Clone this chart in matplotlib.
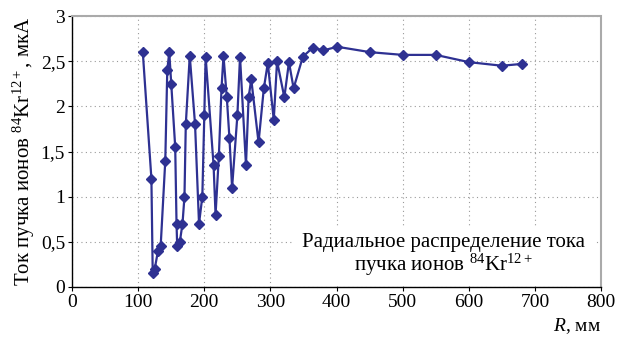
import matplotlib
matplotlib.use("Agg")
import matplotlib.pyplot as plt

plt.rcParams['font.family'] = ['Liberation Serif', 'DejaVu Serif']
plt.rcParams['mathtext.fontset'] = 'custom'
plt.rcParams['mathtext.rm'] = 'Liberation Serif'
plt.rcParams['mathtext.it'] = 'Liberation Serif:italic'

# beam current vs radius
radius_mm = [107, 120, 122, 125, 130, 134, 141, 144, 147, 150, 156, 158, 159,
             163, 167, 170, 172, 178, 186, 192, 197, 200, 202, 214, 217, 222,
             226, 229, 234, 238, 242, 250, 254, 263, 267, 271, 282, 290, 296,
             305, 310, 321, 328, 335, 349, 364, 380, 401, 451, 500, 550, 600,
             650, 680]
current_uA = [2.60, 1.20, 0.15, 0.20, 0.40, 0.45, 1.40, 2.40, 2.60, 2.25, 1.55,
              0.70, 0.45, 0.50, 0.70, 1.00, 1.80, 2.56, 1.80, 0.70, 1.00, 1.90,
              2.55, 1.35, 0.80, 1.45, 2.20, 2.56, 2.10, 1.65, 1.10, 1.90, 2.55,
              1.35, 2.10, 2.30, 1.60, 2.20, 2.48, 1.85, 2.50, 2.10, 2.49, 2.20,
              2.55, 2.65, 2.62, 2.66, 2.60, 2.57, 2.57, 2.49, 2.45, 2.47]

x_ticks = [0, 100, 200, 300, 400, 500, 600, 700, 800]
y_ticks = [0, 0.5, 1, 1.5, 2, 2.5, 3]
y_tick_labels = ['0', '0,5', '1', '1,5', '2', '2,5', '3']

fig = plt.figure(figsize=(6.21, 3.42), dpi=100)
ax = fig.add_axes([0.116, 0.161, 0.852, 0.792])

ax.plot(radius_mm, current_uA, color='#2E3192', lw=1.6, marker='D',
        markersize=5.5, zorder=3)

ax.set_xlim(0, 800)
ax.set_ylim(0, 3)
ax.set_xticks(x_ticks)
ax.set_yticks(y_ticks)
ax.set_yticklabels(y_tick_labels)
ax.tick_params(labelsize=14, direction='out', length=3, width=0.8, pad=2)

ax.grid(True, color='#999999', linestyle=(0, (1, 3)), linewidth=0.8)
for side in ('top', 'right'):
    ax.spines[side].set_color('#aaaaaa')
    ax.spines[side].set_linewidth(1.5)
    ax.spines[side].set_linestyle((0, (1, 1)))
for side in ('left', 'bottom'):
    ax.spines[side].set_linewidth(1.0)

ax.set_ylabel('Ток пучка ионов $^{84}$Kr$^{12+}$, мкА', fontsize=15, labelpad=3)
ax.set_xlabel('$R$, мм', fontsize=14, loc='right', labelpad=4)

ax.text(562, 0.35, 'Радиальное распределение тока\nпучка ионов $^{84}$Kr$^{12+}$',
        ha='center', va='center', fontsize=15, linespacing=1.0, zorder=4,
        bbox=dict(facecolor='white', edgecolor='none', pad=6))

fig.savefig('out.png', dpi=100)
